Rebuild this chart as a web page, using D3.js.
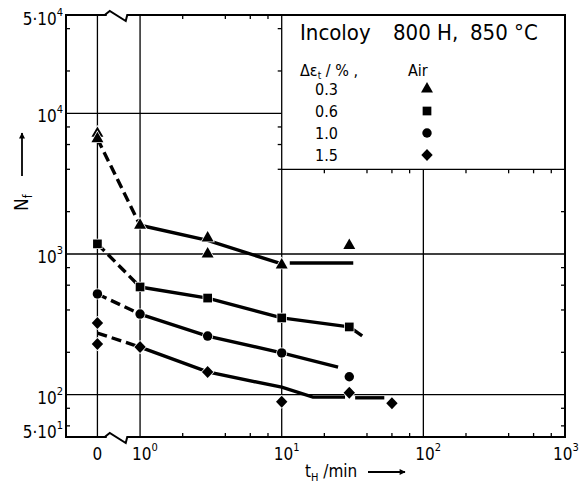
<!DOCTYPE html>
<html>
<head>
<meta charset="utf-8">
<script src="https://cdn.jsdelivr.net/npm/d3@7"></script>
<style>
  body { margin: 0; background: #fff; }
  svg { display: block; }
  text { font-family: "DejaVu Sans Condensed", "Liberation Sans Narrow", "DejaVu Sans", sans-serif; font-stretch: condensed; fill: #000; }
</style>
</head>
<body>
<svg id="chart" width="581" height="489"></svg>
<script>
// strain ranges (legend) and measured points [t_H in min, N_f]
var strains = ["0.3", "0.6", "1.0", "1.5"];
var pts03 = [[0, 7200], [0, 6600], [1, 1600], [3, 1300], [3, 1000], [10, 835], [30, 1150]];
var pts06 = [[0, 1180], [1, 583], [3, 486], [10, 351], [30, 303]];
var pts10 = [[0, 520], [1, 374], [3, 261], [10, 198], [30, 134]];
var pts15 = [[0, 323], [0, 229], [1, 218], [3, 145], [10, 89], [30, 103], [60, 87]];

// hand drawn trend lines
var dash03 = [[0, 6600], [1, 1600]];
var fit03 = [[1, 1600], [3, 1250], [10, 850]];
var flat03 = [[11.4, 863], [32, 863]];
var dash06 = [[0, 1180], [1, 583]];
var fit06 = [[1, 583], [3, 486], [10, 351], [30, 303]];
var tail06 = [[32, 290], [37, 262]];
var dash10 = [[0, 520], [1, 374]];
var fit10 = [[1, 374], [3, 261], [10, 198], [25, 157]];
var dash15 = [[0, 274], [1, 218]];
var fit15 = [[1, 218], [3, 145], [10, 113], [16.6, 96], [28, 96]];
var flat15 = [[33, 95], [53, 95]];

// axis ticks
var xMajor = [1, 10, 100, 1000];
var xMajorLabels = ["0", "1", "2", "3"];
var yMajor = [5e4, 1e4, 1e3, 1e2, 50];
var yMajorLabels = [["5·10", "4"], ["10", "4"], ["10", "3"], ["10", "2"], ["5·10", "1"]];
var minorMult = [2, 4, 6, 8];

var svg = d3.select("#chart");
var L = 66, R = 565, T = 15, B = 437;
var x = d3.scaleLog().domain([0.3, 1000]).range([L, R]);
var y = d3.scaleLog().domain([50, 5e4]).range([B, T]);
var zeroAt = 0.5;   // where t = 0 sits on the broken axis
function px(t) { return t === 0 ? x(zeroAt) : x(t); }

var boxLeft = x(10), boxBottom = y(4000);

var xMinor = [], yMinor = [];
for (var e = 0; e < 3; e++) minorMult.forEach(function(m) { xMinor.push(m * Math.pow(10, e)); });
for (var e2 = 1; e2 < 5; e2++) minorMult.forEach(function(m) {
  var v = m * Math.pow(10, e2);
  if (v > 50 && v < 5e4) yMinor.push(v);
});

// grid
var grid = svg.append("g").attr("stroke", "#000").attr("stroke-width", 1.3);
grid.append("line").attr("x1", L).attr("x2", boxLeft).attr("y1", y(1e4)).attr("y2", y(1e4));
[1e3, 1e2].forEach(function(v) {
  grid.append("line").attr("x1", L).attr("x2", R).attr("y1", y(v)).attr("y2", y(v));
});
[px(0), x(1), x(10)].forEach(function(xx) {
  grid.append("line").attr("x1", xx).attr("x2", xx).attr("y1", T).attr("y2", B);
});
grid.append("line").attr("x1", x(100)).attr("x2", x(100)).attr("y1", boxBottom).attr("y2", B);
grid.append("line").attr("x1", boxLeft).attr("x2", R).attr("y1", boxBottom).attr("y2", boxBottom);

// minor ticks
var ticks = svg.append("g").attr("stroke", "#000").attr("stroke-width", 1.3);
var tl = 4;
yMinor.forEach(function(v) {
  var yy = y(v);
  ticks.append("line").attr("x1", L).attr("x2", L + tl).attr("y1", yy).attr("y2", yy);
  if (yy > boxBottom) ticks.append("line").attr("x1", R).attr("x2", R - tl).attr("y1", yy).attr("y2", yy);
  else ticks.append("line").attr("x1", boxLeft).attr("x2", boxLeft - tl).attr("y1", yy).attr("y2", yy);
});
xMinor.forEach(function(v) {
  var xx = x(v);
  ticks.append("line").attr("x1", xx).attr("x2", xx).attr("y1", B).attr("y2", B - tl);
  if (xx < boxLeft) ticks.append("line").attr("x1", xx).attr("x2", xx).attr("y1", T).attr("y2", T + tl);
  else ticks.append("line").attr("x1", xx).attr("x2", xx).attr("y1", boxBottom).attr("y2", boxBottom + tl);
});

// frame with axis break
svg.append("rect").attr("x", L).attr("y", T).attr("width", R - L).attr("height", B - T)
  .attr("fill", "none").attr("stroke", "#000").attr("stroke-width", 2);
var bx = (px(0) + x(1)) / 2;
[T, B].forEach(function(yy) {
  svg.append("rect").attr("x", bx - 12).attr("y", yy - 2).attr("width", 22).attr("height", 4).attr("fill", "#fff");
  svg.append("path")
    .attr("d", "M" + (bx - 14) + "," + yy + "L" + (bx - 9) + "," + (yy - 4) + "L" + (bx + 7) + "," + (yy + 6) +
      "L" + (bx + 8.5) + "," + yy + "L" + (bx + 12) + "," + yy)
    .attr("fill", "none").attr("stroke", "#000").attr("stroke-width", 2);
});

// trend lines
var line = d3.line().x(function(d) { return px(d[0]); }).y(function(d) { return y(d[1]); });
var lines = svg.append("g").attr("fill", "none").attr("stroke", "#000").attr("stroke-width", 3.4);
[dash03, dash06, dash10, dash15].forEach(function(d) {
  lines.append("path").attr("d", line(d)).attr("stroke-dasharray", "10,5");
});
[fit03, flat03, fit06, tail06, fit10, fit15, flat15].forEach(function(d) {
  lines.append("path").attr("d", line(d));
});

// markers
var diamond = {draw: function(ctx, size) {
  var r = Math.sqrt(size / 2);
  ctx.moveTo(0, -r); ctx.lineTo(r * 0.95, 0); ctx.lineTo(0, r); ctx.lineTo(-r * 0.95, 0); ctx.closePath();
}};
var shapes = [d3.symbolTriangle, d3.symbolSquare, d3.symbolCircle, diamond];
var sizes = [62, 76, 70, 72];
var series = [pts03, pts06, pts10, pts15];
series.forEach(function(pts, i) {
  svg.append("g").selectAll("path").data(pts).enter().append("path")
    .attr("transform", function(d) { return "translate(" + px(d[0]) + "," + y(d[1]) + ")"; })
    .attr("d", d3.symbol().type(shapes[i]).size(sizes[i]))
    .attr("fill", "#000").attr("stroke", "#fff").attr("stroke-width", 1.5).attr("paint-order", "stroke");
});

// y tick labels (base + superscript in one text)
yMajor.forEach(function(v, i) {
  var off = v === 5e4 ? 10 : (v === 50 ? 1 : 9);
  var t = svg.append("text").attr("x", 63).attr("y", y(v) + off)
    .attr("text-anchor", "end").attr("font-size", 17);
  t.append("tspan").text(yMajorLabels[i][0]);
  t.append("tspan").attr("font-size", 11).attr("dy", -9).text(yMajorLabels[i][1]);
});

// x tick labels
svg.append("text").attr("x", px(0)).attr("y", 460).attr("text-anchor", "middle").attr("font-size", 17).text("0");
xMajor.forEach(function(v, i) {
  var t = svg.append("text").attr("x", x(v) - (v === 1000 ? 12 : 8)).attr("y", 460).attr("font-size", 17);
  t.append("tspan").text("10");
  t.append("tspan").attr("font-size", 11).attr("dy", -9).text(xMajorLabels[i]);
});

// axis titles
svg.append("defs").append("marker").attr("id", "arr").attr("viewBox", "0 0 10 10")
  .attr("refX", 9).attr("refY", 5).attr("markerWidth", 8).attr("markerHeight", 6)
  .attr("markerUnits", "userSpaceOnUse").attr("orient", "auto")
  .append("path").attr("d", "M0,0L10,5L0,10Z").attr("fill", "#000");
var xt = svg.append("text").attr("x", 305).attr("y", 477).attr("font-size", 17);
xt.append("tspan").text("t");
xt.append("tspan").attr("font-size", 11).attr("dy", 4).text("H");
xt.append("tspan").attr("dy", -4).text(" /min");
svg.append("line").attr("x1", 368).attr("x2", 405).attr("y1", 472).attr("y2", 472)
  .attr("stroke", "#000").attr("stroke-width", 1.8).attr("marker-end", "url(#arr)");

var yt = svg.append("text").attr("transform", "translate(28,211) rotate(-90)").attr("font-size", 19);
yt.append("tspan").text("N");
yt.append("tspan").attr("font-size", 12).attr("dy", 4).text("f");
svg.append("line").attr("x1", 22).attr("x2", 22).attr("y1", 176).attr("y2", 133)
  .attr("stroke", "#000").attr("stroke-width", 1.8).attr("marker-end", "url(#arr)");

// legend
var title = svg.append("text").attr("y", 40).attr("font-size", 22);
title.append("tspan").attr("x", 300).text("Incoloy");
title.append("tspan").attr("x", 393).text("800 H,");
title.append("tspan").attr("x", 470).text("850 °C");
var sub = svg.append("text").attr("x", 300).attr("y", 76).attr("font-size", 16);
sub.append("tspan").text("Δε");
sub.append("tspan").attr("font-size", 10).attr("dy", 3).text("t");
sub.append("tspan").attr("dy", -3).text(" / % ,");
svg.append("text").attr("x", 408).attr("y", 76).attr("font-size", 16).text("Air");
strains.forEach(function(s, i) {
  var yy = 95 + i * 22;
  svg.append("text").attr("x", 315).attr("y", yy).attr("font-size", 16).text(s);
  svg.append("path").attr("transform", "translate(427," + (yy - 6) + ")")
    .attr("d", d3.symbol().type(shapes[i]).size(sizes[i])).attr("fill", "#000");
});
</script>
</body>
</html>
